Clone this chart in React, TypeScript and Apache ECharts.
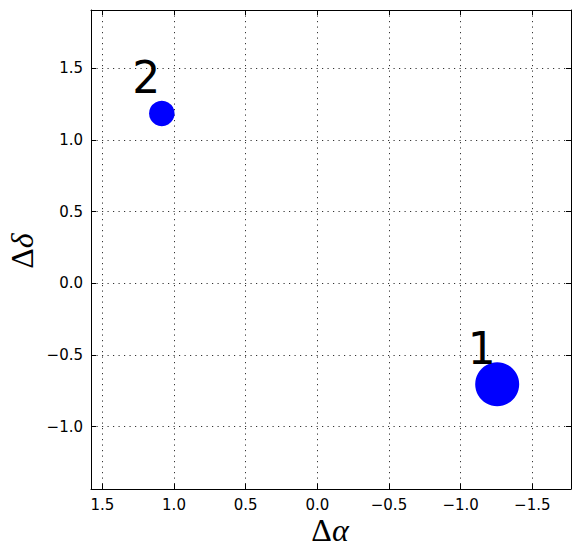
import React, { useEffect, useRef } from "react";
import * as echarts from "echarts";

const pointNames = ["1", "2"];
const dAlpha = [-1.255, 1.085];
const dDelta = [-0.704, 1.185];
const markerSizes = [44, 25.5];
const xTicks = [1.5, 1.0, 0.5, 0.0, -0.5, -1.0, -1.5];
const yTicks = [-1.0, -0.5, 0.0, 0.5, 1.0, 1.5];
const xRange = [-1.77, 1.579];
const yRange = [-1.435, 1.907];

const fmt = (v: number) => (v < 0 ? "\u2212" + Math.abs(v).toFixed(1) : v.toFixed(1));

export default function App() {
  const ref = useRef<HTMLDivElement>(null);
  useEffect(() => {
    if (!ref.current) return;
    const chart = echarts.init(ref.current, null, { renderer: "svg" });
    const tickFont = { fontFamily: "DejaVu Sans", fontSize: 15, color: "#000" };
    const split = { show: true, lineStyle: { color: "#333", width: 1, type: [1.2, 4.3] as any } };
    const axisLine = { show: true, onZero: false, lineStyle: { color: "#000", width: 1 } };
    const xBase = {
      type: "value" as const,
      min: xRange[0],
      max: xRange[1],
      inverse: true,
      axisLine,
    };
    const yBase = {
      type: "value" as const,
      min: yRange[0],
      max: yRange[1],
      axisLine,
    };
    chart.setOption({
      animation: false,
      backgroundColor: "#fff",
      grid: { left: 91, right: 9, top: 10, bottom: 69 },
      xAxis: [
        {
          ...xBase,
          position: "bottom",
          axisTick: { show: true, inside: true, length: 5, customValues: xTicks, lineStyle: { color: "#000" } },
          axisLabel: { ...tickFont, margin: 8, customValues: xTicks, formatter: fmt },
          splitLine: split,
        },
        {
          ...xBase,
          position: "top",
          axisTick: { show: true, inside: true, length: 5, customValues: xTicks, lineStyle: { color: "#000" } },
          axisLabel: { show: false, customValues: xTicks },
          splitLine: { show: false },
        },
      ],
      yAxis: [
        {
          ...yBase,
          position: "left",
          axisTick: { show: true, inside: true, length: 5, customValues: yTicks, lineStyle: { color: "#000" } },
          axisLabel: { ...tickFont, margin: 8, customValues: yTicks, formatter: fmt },
          splitLine: split,
        },
        {
          ...yBase,
          position: "right",
          axisTick: { show: true, inside: true, length: 5, customValues: yTicks, lineStyle: { color: "#000" } },
          axisLabel: { show: false, customValues: yTicks },
          splitLine: { show: false },
        },
      ],
      series: [
        {
          type: "scatter",
          xAxisIndex: 0,
          yAxisIndex: 0,
          data: pointNames.map((n, i) => ({
            name: n,
            value: [dAlpha[i], dDelta[i]],
            symbolSize: markerSizes[i],
          })),
          itemStyle: { color: "#0000ff", opacity: 1 },
          label: {
            show: true,
            position: "inside",
            offset: [-15.5, -35.5],
            formatter: (p: any) => p.name,
            fontFamily: "DejaVu Sans",
            fontSize: 44,
            color: "#000",
            align: "center",
            verticalAlign: "middle",
          },
          emphasis: { disabled: true },
        },
      ],
      graphic: [
        {
          type: "text",
          x: 330,
          y: 530,
          style: {
            text: "{a|\u0394}{b|\u03b1}",
            align: "center",
            verticalAlign: "middle",
            rich: {
              a: { fontFamily: "Liberation Serif", fontSize: 32, fill: "#000" },
              b: { fontFamily: "Liberation Serif", fontStyle: "italic", fontSize: 32, fill: "#000" },
            },
          },
        },
        {
          type: "text",
          x: 22,
          y: 251,
          rotation: Math.PI / 2,
          style: {
            text: "{a|\u0394}{b|\u03b4}",
            align: "center",
            verticalAlign: "middle",
            rich: {
              a: { fontFamily: "Liberation Serif", fontSize: 32, fill: "#000" },
              b: { fontFamily: "Liberation Serif", fontStyle: "italic", fontSize: 32, fill: "#000" },
            },
          },
        },
      ],
    });
    return () => chart.dispose();
  }, []);
  return <div ref={ref} style={{ width: 580, height: 558, position: "absolute", left: 0, top: 0 }} />;
}
